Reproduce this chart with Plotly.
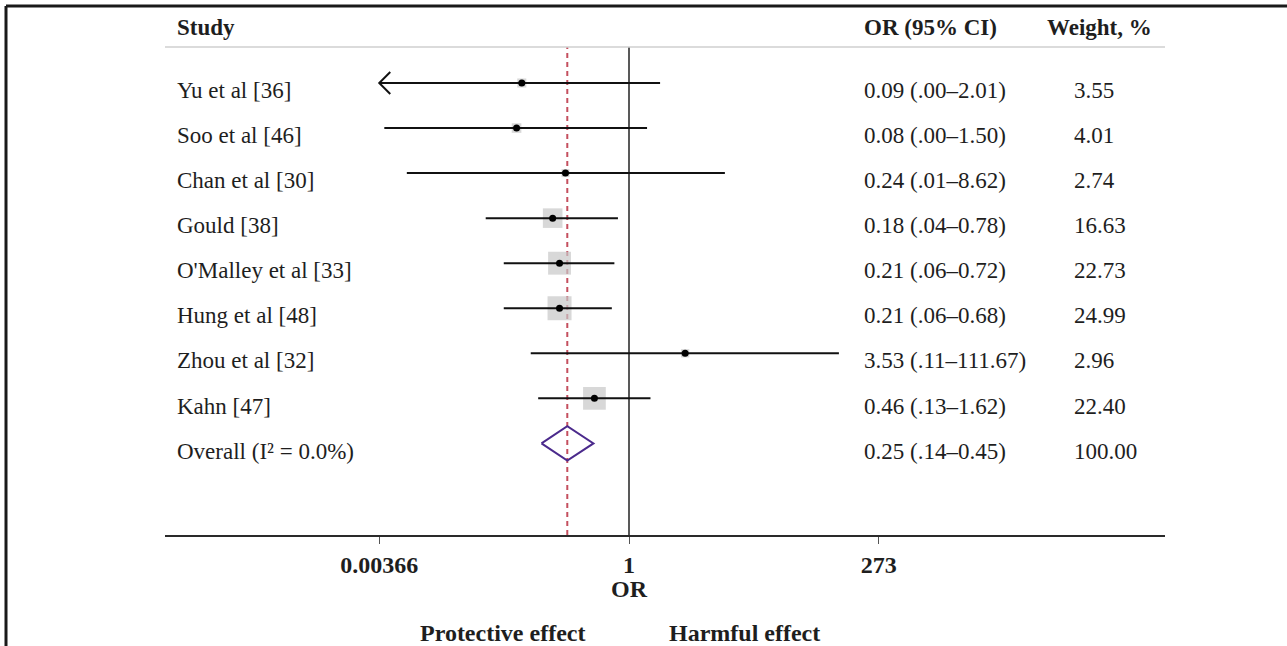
import numpy as np
import plotly.graph_objects as go

# ---------------- data ----------------
studies = ["Yu et al [36]", "Soo et al [46]", "Chan et al [30]", "Gould [38]",
           "O'Malley et al [33]", "Hung et al [48]", "Zhou et al [32]", "Kahn [47]"]
odds_ratio = [0.09, 0.08, 0.24, 0.18, 0.21, 0.21, 3.53, 0.46]
ci_lower = [0.002, 0.0041, 0.0068, 0.04, 0.06, 0.06, 0.11, 0.13]
ci_upper = [2.01, 1.50, 8.62, 0.78, 0.72, 0.68, 111.67, 1.62]
weights = [3.55, 4.01, 2.74, 16.63, 22.73, 24.99, 2.96, 22.40]
or_labels = ["0.09 (.00–2.01)", "0.08 (.00–1.50)", "0.24 (.01–8.62)", "0.18 (.04–0.78)",
             "0.21 (.06–0.72)", "0.21 (.06–0.68)", "3.53 (.11–111.67)", "0.46 (.13–1.62)"]
weight_labels = ["3.55", "4.01", "2.74", "16.63", "22.73", "24.99", "2.96", "22.40"]

overall_label = "Overall (I² = 0.0%)"
overall_or = 0.25
overall_lower = 0.14
overall_upper = 0.45
overall_or_label = "0.25 (.14–0.45)"
overall_weight_label = "100.00"

tick_values = [0.00366, 1, 273]
tick_labels = ["0.00366", "1", "273"]
axis_clip = tick_values[0]

# ---------------- styling ----------------
FONT = "Liberation Serif"
BODY = 23
HEAD = 23
FOOT = 24
TEXT_COLOR = "#1e1e1e"
PX_PER_DEC = 102.5
L, R, T, B = 165, 122, 47, 111
W, H = 1287, 646
plot_w = W - L - R
plot_h = H - T - B
ROW_PX = 45.05
row0_px = 83  # absolute pixel of first row

x_lo = (L - 629) / PX_PER_DEC
x_hi = (W - R - 629) / PX_PER_DEC
y_top = (T - row0_px) / ROW_PX
y_bot = (H - B - row0_px) / ROW_PX

rows = list(range(len(studies)))
overall_row = len(studies)
TXT_OFF = 0.17

fig = go.Figure()

# CI lines
cx, cy = [], []
for r, lo, hi in zip(rows, ci_lower, ci_upper):
    cx += [max(lo, axis_clip), hi, None]
    cy += [r, r, None]

# weight squares
fig.add_trace(go.Scatter(x=odds_ratio, y=rows, mode="markers",
                         marker=dict(symbol="square", color="#c8c8c8",
                                     size=[4.8 * np.sqrt(w) for w in weights],
                                     line=dict(width=0)),
                         hoverinfo="skip", showlegend=False))
fig.add_trace(go.Scatter(x=cx, y=cy, mode="lines", line=dict(color="#111111", width=2),
                         hoverinfo="skip", showlegend=False))

# arrows for clipped intervals
ax, ay = [], []
for r, lo in zip(rows, ci_lower):
    if lo < axis_clip:
        f = 10 ** (11 / PX_PER_DEC)
        ax += [axis_clip * f, axis_clip, axis_clip * f, None]
        ay += [r - 0.245, r, r + 0.245, None]
fig.add_trace(go.Scatter(x=ax, y=ay, mode="lines", line=dict(color="#111111", width=2),
                         hoverinfo="skip", showlegend=False))

# point estimates
fig.add_trace(go.Scatter(x=odds_ratio, y=rows, mode="markers",
                         marker=dict(symbol="circle", color="black", size=7),
                         hoverinfo="skip", showlegend=False))

# overall diamond
dh = 0.38
fig.add_trace(go.Scatter(x=[overall_lower, overall_or, overall_upper, overall_or, overall_lower],
                         y=[overall_row, overall_row - dh, overall_row, overall_row + dh, overall_row],
                         mode="lines", line=dict(color="#4b2a8c", width=2),
                         hoverinfo="skip", showlegend=False))

shapes = [
    dict(type="line", xref="x", yref="paper", x0=1, x1=1, y0=0, y1=1,
         line=dict(color="#222222", width=1.5), layer="below"),
    dict(type="line", xref="x", yref="paper", x0=overall_or, x1=overall_or, y0=0, y1=1,
         line=dict(color="#c44f5e", width=2, dash="5px,4px"), layer="below"),
    dict(type="line", xref="paper", yref="paper", x0=0, x1=1, y0=1, y1=1,
         line=dict(color="#cfcfcf", width=1.5)),
    dict(type="line", xref="paper", yref="paper", x0=(6 - L) / plot_w, x1=1.3,
         y0=(H - B - 6) / plot_h, y1=(H - B - 6) / plot_h, line=dict(color="#1a1a1a", width=3)),
    dict(type="line", xref="paper", yref="paper", x0=(6 - L) / plot_w, x1=(6 - L) / plot_w,
         y0=(H - B - 6) / plot_h, y1=-0.3, line=dict(color="#1a1a1a", width=3)),
]

ann = []
def txt(x, y, s, xref="paper", yref="y", bold=False, size=BODY, xanchor="left"):
    ann.append(dict(x=x, y=y, xref=xref, yref=yref, text=f"<b>{s}</b>" if bold else s,
                    showarrow=False, xanchor=xanchor, yanchor="middle",
                    font=dict(family=FONT, size=size, color=TEXT_COLOR)))

col_study = (175 - L) / plot_w
col_or = (862 - L) / plot_w
col_w = (1072 - L) / plot_w
col_wh = (1045 - L) / plot_w
hdr_y = (H - B - 27.5) / plot_h

txt(col_study, hdr_y, "Study", yref="paper", bold=True, size=HEAD)
txt(col_or, hdr_y, "OR (95% CI)", yref="paper", bold=True, size=HEAD)
txt(col_wh, hdr_y, "Weight, %", yref="paper", bold=True, size=HEAD)

for r, s, o, w in zip(rows, studies, or_labels, weight_labels):
    txt(col_study, r + TXT_OFF, s)
    txt(col_or, r + TXT_OFF, o)
    txt(col_w, r + TXT_OFF, w)
txt(col_study, overall_row + TXT_OFF, overall_label)
txt(col_or, overall_row + TXT_OFF, overall_or_label)
txt(col_w, overall_row + TXT_OFF, overall_weight_label)

txt(np.log10(tick_values[1]), (H - B - 589) / plot_h, "OR", xref="x", yref="paper",
    bold=True, size=FOOT, xanchor="center")
txt((502 - L) / plot_w, (H - B - 633) / plot_h, "Protective effect", yref="paper",
    bold=True, size=FOOT, xanchor="center")
txt((744 - L) / plot_w, (H - B - 633) / plot_h, "Harmful effect", yref="paper",
    bold=True, size=FOOT, xanchor="center")

fig.update_layout(
    width=W, height=H,
    margin=dict(l=L, r=R, t=T, b=B, pad=0),
    paper_bgcolor="white", plot_bgcolor="white",
    shapes=shapes, annotations=ann,
    xaxis=dict(type="log", range=[x_lo, x_hi], showgrid=False, zeroline=False,
               showline=True, linecolor="#2a2a2a", linewidth=2,
               ticks="outside", ticklen=7, tickwidth=1, tickcolor="#555555",
               tickvals=tick_values, ticktext=[f"<b>{t}</b>" for t in tick_labels],
               tickfont=dict(family=FONT, size=FOOT, color=TEXT_COLOR)),
    yaxis=dict(range=[y_bot, y_top], showgrid=False, zeroline=False, showline=False,
               showticklabels=False, ticks=""),
    showlegend=False,
)

fig.write_html("out.html", config={"displayModeBar": False},
               post_script="document.body.style.margin='0';document.body.style.overflow='hidden';")
